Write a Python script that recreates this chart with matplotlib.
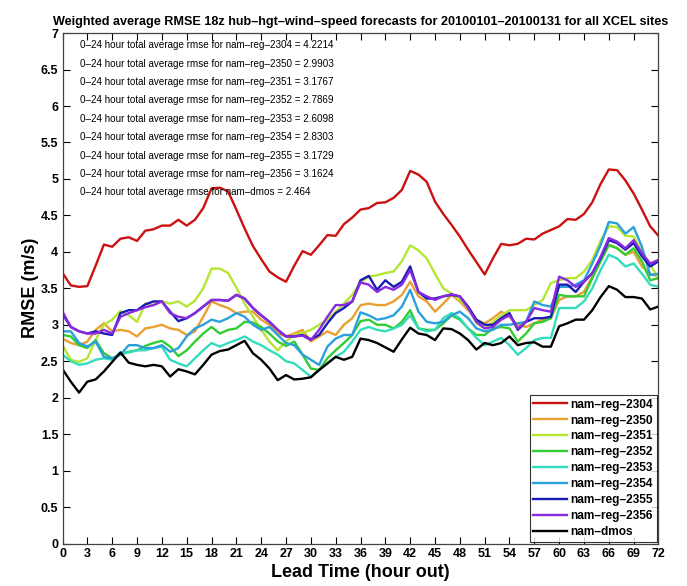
import numpy as np
import matplotlib
matplotlib.use("Agg")
import matplotlib.pyplot as plt

plt.rcParams['font.family'] = ['Liberation Sans', 'DejaVu Sans']

lead_hours = np.arange(0, 73)

names = ['nam\u2013reg\u20132304', 'nam\u2013reg\u20132350', 'nam\u2013reg\u20132351',
         'nam\u2013reg\u20132352', 'nam\u2013reg\u20132353', 'nam\u2013reg\u20132354',
         'nam\u2013reg\u20132355', 'nam\u2013reg\u20132356', 'nam\u2013dmos']
avg_0_24 = ['4.2214', '2.9903', '3.1767', '2.7869', '2.6098', '2.8303', '3.1729', '3.1624', '2.464']

rmse_2304 = [3.71, 3.54, 3.52, 3.53, 3.81, 4.10, 4.07, 4.18, 4.20, 4.15,
             4.29, 4.31, 4.36, 4.36, 4.44, 4.36, 4.44, 4.60, 4.87, 4.88,
             4.83, 4.58, 4.32, 4.08, 3.90, 3.73, 3.65, 3.59, 3.81, 4.01,
             3.96, 4.09, 4.23, 4.22, 4.38, 4.47, 4.58, 4.60, 4.67, 4.68,
             4.74, 4.85, 5.11, 5.06, 4.96, 4.69, 4.52, 4.37, 4.21, 4.03,
             3.86, 3.69, 3.91, 4.11, 4.09, 4.11, 4.18, 4.17, 4.25, 4.30,
             4.35, 4.45, 4.44, 4.52, 4.68, 4.93, 5.13, 5.12, 4.98, 4.80,
             4.58, 4.35, 4.22]
rmse_2350 = [2.81, 2.75, 2.72, 2.77, 2.93, 3.02, 2.91, 2.93, 2.91, 2.84,
             2.95, 2.97, 3.00, 2.95, 2.93, 2.86, 2.91, 3.11, 3.32, 3.27,
             3.23, 3.16, 3.18, 3.18, 3.07, 3.00, 2.88, 2.84, 2.88, 2.93,
             2.77, 2.84, 2.91, 2.86, 3.00, 3.09, 3.27, 3.29, 3.27, 3.27,
             3.32, 3.41, 3.59, 3.39, 3.32, 3.18, 3.29, 3.41, 3.32, 3.20,
             3.07, 3.02, 3.09, 3.18, 3.11, 3.00, 2.97, 3.02, 3.07, 3.09,
             3.34, 3.39, 3.39, 3.45, 3.66, 3.89, 4.10, 4.05, 3.96, 4.00,
             3.80, 3.70, 3.66]
rmse_2351 = [2.72, 2.52, 2.49, 2.54, 2.79, 3.00, 3.07, 3.19, 3.13, 3.04,
             3.29, 3.27, 3.32, 3.29, 3.32, 3.25, 3.33, 3.50, 3.77, 3.77,
             3.71, 3.51, 3.29, 3.11, 2.93, 2.77, 2.65, 2.77, 2.86, 2.89,
             2.93, 3.00, 3.07, 3.18, 3.29, 3.41, 3.58, 3.66, 3.68, 3.71,
             3.73, 3.87, 4.09, 4.02, 3.91, 3.70, 3.50, 3.43, 3.34, 3.23,
             3.02, 2.95, 3.04, 3.13, 3.20, 3.20, 3.20, 3.27, 3.34, 3.57,
             3.61, 3.64, 3.64, 3.73, 3.89, 4.15, 4.35, 4.34, 4.22, 4.21,
             4.00, 3.82, 3.64]
rmse_2352 = [2.86, 2.84, 2.72, 2.68, 2.79, 2.61, 2.54, 2.59, 2.63, 2.65,
             2.71, 2.75, 2.78, 2.70, 2.57, 2.65, 2.77, 2.88, 2.97, 2.88,
             2.93, 2.95, 3.04, 3.03, 2.97, 2.88, 2.77, 2.71, 2.77, 2.59,
             2.40, 2.38, 2.54, 2.65, 2.75, 2.86, 3.05, 3.07, 3.00, 3.00,
             2.95, 3.04, 3.20, 2.95, 2.93, 2.93, 3.02, 3.13, 3.07, 2.95,
             2.86, 2.86, 2.95, 2.97, 2.95, 2.77, 2.88, 3.02, 3.04, 3.09,
             3.41, 3.39, 3.39, 3.39, 3.64, 3.87, 4.09, 4.05, 3.96, 4.05,
             3.87, 3.61, 3.64]
rmse_2353 = [2.59, 2.50, 2.45, 2.47, 2.52, 2.54, 2.52, 2.62, 2.62, 2.65,
             2.65, 2.68, 2.70, 2.52, 2.47, 2.43, 2.54, 2.65, 2.75, 2.70,
             2.75, 2.79, 2.84, 2.77, 2.72, 2.65, 2.59, 2.50, 2.47, 2.38,
             2.29, 2.38, 2.47, 2.56, 2.63, 2.77, 2.93, 2.97, 2.93, 2.91,
             2.95, 3.00, 3.13, 2.95, 2.91, 2.93, 3.09, 3.16, 3.09, 2.95,
             2.82, 2.72, 2.77, 2.82, 2.72, 2.59, 2.68, 2.79, 2.82, 2.82,
             3.23, 3.23, 3.23, 3.32, 3.50, 3.75, 3.96, 3.91, 3.80, 3.84,
             3.70, 3.55, 3.52]
rmse_2354 = [2.91, 2.91, 2.75, 2.70, 2.77, 2.56, 2.54, 2.59, 2.72, 2.72,
             2.68, 2.68, 2.72, 2.63, 2.68, 2.84, 2.95, 3.00, 3.07, 3.04,
             3.09, 3.16, 3.11, 3.00, 2.93, 2.97, 2.86, 2.75, 2.72, 2.59,
             2.52, 2.45, 2.70, 2.81, 2.86, 2.86, 3.17, 3.13, 3.07, 3.09,
             3.13, 3.25, 3.48, 3.18, 3.04, 3.02, 3.04, 3.13, 3.18, 3.09,
             2.95, 2.91, 2.93, 3.00, 3.00, 3.02, 3.04, 3.32, 3.27, 3.25,
             3.52, 3.52, 3.55, 3.61, 3.84, 4.09, 4.41, 4.39, 4.25, 4.34,
             4.07, 3.68, 3.70]
rmse_2355 = [3.15, 2.97, 2.91, 2.88, 2.91, 2.88, 2.86, 3.16, 3.20, 3.20,
             3.28, 3.32, 3.32, 3.18, 3.05, 3.09, 3.16, 3.25, 3.34, 3.34,
             3.33, 3.41, 3.36, 3.23, 3.13, 3.04, 2.93, 2.84, 2.84, 2.86,
             2.80, 2.86, 3.02, 3.16, 3.23, 3.32, 3.61, 3.67, 3.48, 3.61,
             3.52, 3.59, 3.80, 3.45, 3.36, 3.36, 3.39, 3.41, 3.39, 3.25,
             3.07, 3.00, 3.00, 3.09, 3.16, 2.93, 3.04, 3.09, 3.09, 3.11,
             3.55, 3.55, 3.45, 3.59, 3.71, 3.91, 4.16, 4.12, 4.03, 4.12,
             3.94, 3.80, 3.87]
rmse_2356 = [3.18, 2.97, 2.91, 2.88, 2.88, 2.93, 2.88, 3.11, 3.16, 3.20,
             3.24, 3.27, 3.32, 3.16, 3.11, 3.09, 3.16, 3.25, 3.34, 3.34,
             3.33, 3.41, 3.36, 3.23, 3.13, 3.04, 2.93, 2.84, 2.84, 2.85,
             2.79, 2.93, 3.11, 3.27, 3.27, 3.32, 3.58, 3.55, 3.45, 3.52,
             3.48, 3.55, 3.75, 3.45, 3.39, 3.34, 3.39, 3.42, 3.39, 3.23,
             3.04, 2.95, 2.97, 3.07, 3.13, 2.95, 3.04, 3.23, 3.20, 3.18,
             3.66, 3.61, 3.52, 3.59, 3.71, 3.93, 4.19, 4.14, 4.05, 4.16,
             3.98, 3.84, 3.89]
rmse_dmos = [2.39, 2.22, 2.07, 2.22, 2.25, 2.36, 2.49, 2.62, 2.48, 2.45,
             2.43, 2.45, 2.43, 2.29, 2.39, 2.36, 2.32, 2.45, 2.59, 2.64,
             2.66, 2.72, 2.78, 2.61, 2.52, 2.40, 2.24, 2.31, 2.25, 2.26,
             2.28, 2.38, 2.47, 2.56, 2.52, 2.56, 2.81, 2.79, 2.75, 2.69,
             2.63, 2.80, 2.96, 2.88, 2.86, 2.79, 2.95, 2.94, 2.88, 2.79,
             2.66, 2.75, 2.72, 2.75, 2.84, 2.72, 2.75, 2.76, 2.70, 2.70,
             2.98, 3.02, 3.07, 3.07, 3.20, 3.38, 3.53, 3.48, 3.38, 3.38,
             3.36, 3.21, 3.25]

series = [rmse_2304, rmse_2350, rmse_2351, rmse_2352, rmse_2353,
          rmse_2354, rmse_2355, rmse_2356, rmse_dmos]
colors = ['#cc1111', '#e8a030', '#b4e632', '#33cc33', '#33dcbc',
          '#2aa0dc', '#1a1ab4', '#8a2ae0', '#000000']

fig = plt.figure(figsize=(6.87, 5.86), dpi=100)
ax = fig.add_axes([0.091, 0.0725, 0.8675, 0.871])

for vals, c, n in zip(series, colors, names):
    ax.plot(lead_hours, vals, color=c, lw=1.7, label=n)

# 0-24 h averages listed in the upper-left corner
for i, (n, a) in enumerate(zip(names, avg_0_24)):
    ax.text(0.029, 0.976 - i * 0.036,
            '0\u201324 hour total average rmse for %s = %s' % (n, a),
            transform=ax.transAxes, fontsize=7.1, va='center', ha='left')

ax.set_xlim(0, 72)
ax.set_ylim(0, 7)
ax.set_xticks(np.arange(0, 73, 3))
ax.set_yticks(np.arange(0, 7.01, 0.5))
ax.set_yticklabels(['%g' % v for v in np.arange(0, 7.01, 0.5)])
ax.tick_params(direction='in', top=True, right=True, length=5, width=0.8,
               labelsize=9, pad=3)
for lab in ax.get_xticklabels() + ax.get_yticklabels():
    lab.set_fontweight('bold')
for s in ax.spines.values():
    s.set_linewidth(0.9)
    s.set_color('#444444')

ax.set_xlabel('Lead Time (hour out)', fontsize=13, fontweight='bold', labelpad=3)
ax.set_ylabel('RMSE (m/s)', fontsize=13, fontweight='bold', labelpad=1)
ax.set_title('Weighted average RMSE 18z hub\u2013hgt\u2013wind\u2013speed forecasts for '
             '20100101\u201320100131 for all XCEL sites', fontsize=9.1,
             fontweight='bold', pad=6)

leg = ax.legend(loc='lower right', fontsize=8.6, frameon=True, fancybox=False,
                edgecolor='black', handlelength=2.8, handletextpad=0.3,
                labelspacing=0.33, borderpad=0.3, borderaxespad=0.15)
leg.get_frame().set_linewidth(0.8)
for t in leg.get_texts():
    t.set_fontweight('bold')

fig.savefig('out.png', dpi=100)
